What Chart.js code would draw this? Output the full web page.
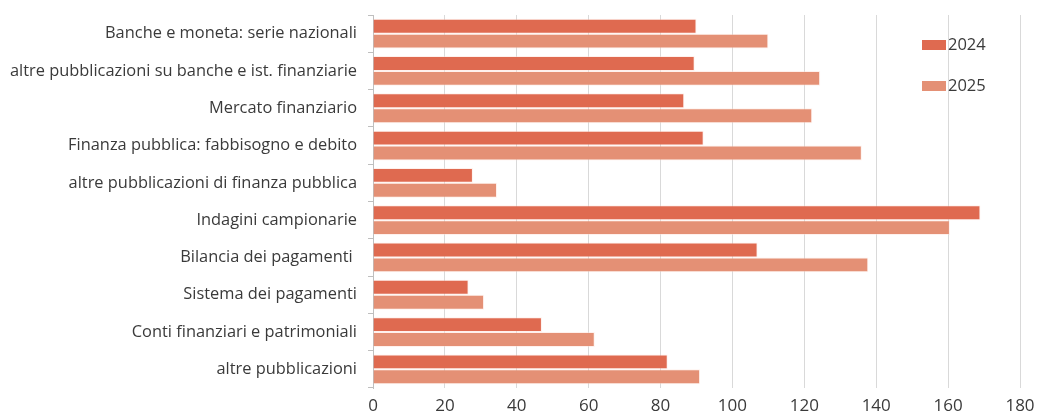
<!DOCTYPE html>
<html>
<head>
<meta charset="utf-8">
<script src="https://cdn.jsdelivr.net/npm/chart.js@4.4.1/dist/chart.umd.min.js"></script>
<style>
  html, body { margin: 0; padding: 0; background: #fff; }
  #wrap { width: 1037px; height: 418px; }
</style>
</head>
<body>
<div id="wrap"><canvas id="pubChart"></canvas></div>
<script>
const categories = [
    'Banche e moneta: serie nazionali',
    'altre pubblicazioni su banche e ist. finanziarie',
    'Mercato finanziario',
    'Finanza pubblica: fabbisogno e debito',
    'altre pubblicazioni di finanza pubblica',
    'Indagini campionarie',
    'Bilancia dei pagamenti ',
    'Sistema dei pagamenti',
    'Conti finanziari e patrimoniali',
    'altre pubblicazioni'
];
const values2024 = [90, 89.5, 86.6, 92, 27.8, 169, 107, 26.6, 47, 82];
const values2025 = [110, 124.4, 122.2, 136, 34.5, 160.5, 137.8, 30.9, 61.7, 91];
const xTicks = [0, 20, 40, 60, 80, 100, 120, 140, 160, 180];

const fontFamily = "'Open Sans', 'Noto Sans', sans-serif";
const textColor = '#3a3a3a';

// legend drawn inside the plot, top right
const floatingLegend = {
    id: 'floatingLegend',
    afterDraw(chart) {
        const ctx = chart.ctx;
        const x = 922;
        const rows = [45, 86];
        ctx.save();
        ctx.font = '16.5px ' + fontFamily;
        ctx.textBaseline = 'middle';
        ctx.textAlign = 'left';
        chart.data.datasets.forEach((ds, i) => {
            const y = rows[i];
            ctx.fillStyle = ds.backgroundColor;
            ctx.fillRect(x, y - 5, 24, 10);
            ctx.fillStyle = textColor;
            ctx.fillText(ds.label, x + 26, y);
        });
        ctx.restore();
    }
};

const ctx = document.getElementById('pubChart').getContext('2d');
const pubChart = new Chart(ctx, {
    type: 'bar',
    data: {
        labels: categories,
        datasets: [
            {
                label: '2024',
                data: values2024,
                backgroundColor: '#DF6A50',
                borderColor: 'rgba(255, 225, 215, 0.45)',
                borderWidth: 1,
                categoryPercentage: 0.8,
                barPercentage: 1.0
            },
            {
                label: '2025',
                data: values2025,
                backgroundColor: '#E49075',
                borderColor: 'rgba(255, 225, 215, 0.45)',
                borderWidth: 1,
                categoryPercentage: 0.8,
                barPercentage: 1.0
            }
        ]
    },
    options: {
        indexAxis: 'y',
        responsive: true,
        maintainAspectRatio: false,
        animation: false,
        layout: { padding: { top: 15, right: 0, bottom: 0, left: 0 } },
        plugins: {
            legend: { display: false },
            tooltip: { enabled: false }
        },
        scales: {
            x: {
                min: 0,
                max: 180,
                afterBuildTicks: (scale) => { scale.ticks = xTicks.map(v => ({ value: v })); },
                afterFit: (scale) => {
                    scale.height = 30;
                    scale.paddingLeft = 0;
                    scale.paddingRight = 17;
                },
                grid: { color: '#d9d9d9', drawTicks: false },
                border: { display: false },
                ticks: {
                    padding: 8,
                    color: textColor,
                    font: { family: fontFamily, size: 17 }
                }
            },
            y: {
                afterFit: (scale) => {
                    scale.width = 373;
                    scale.paddingTop = 0;
                    scale.paddingBottom = 0;
                },
                grid: {
                    offset: true,
                    drawOnChartArea: false,
                    tickLength: 5,
                    color: '#bfbfbf'
                },
                border: { color: '#bfbfbf', width: 1 },
                ticks: {
                    padding: 11,
                    color: textColor,
                    font: { family: fontFamily, size: 16.4 }
                }
            }
        }
    },
    plugins: [floatingLegend]
});
</script>
</body>
</html>
